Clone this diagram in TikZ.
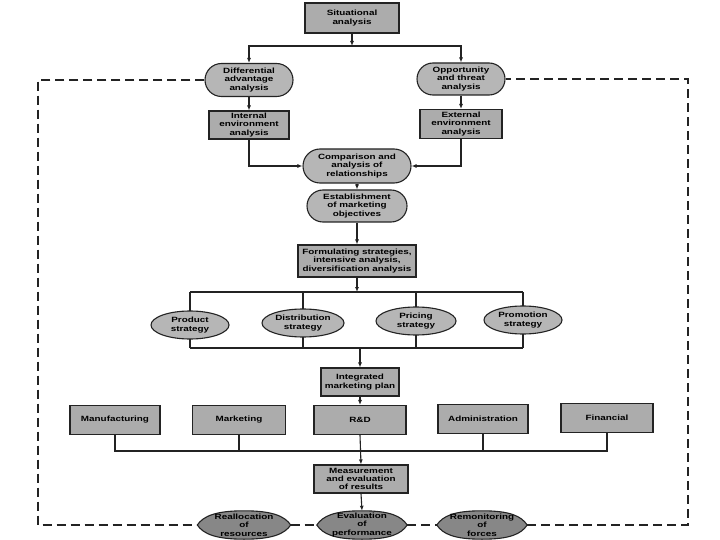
\documentclass[tikz,border=0pt]{standalone}
\usepackage{fontspec}
\newfontfamily\diagfont{Liberation Sans}[FakeStretch=1.3]
\usetikzlibrary{arrows.meta,shapes.misc,shapes.geometric,backgrounds,calc}
\definecolor{boxfill}{RGB}{172,172,172}
\definecolor{ovalfill}{RGB}{182,182,182}
\definecolor{lemonfill}{RGB}{135,135,135}
\definecolor{linec}{RGB}{35,35,35}
\tikzset{
  lbl/.style={font=\diagfont\bfseries\fontsize{7.6}{8.3}\selectfont, align=center, inner sep=1pt, text=black},
  boxnode/.style={lbl, rectangle, draw=linec, line width=1.1pt, fill=boxfill},
  ovalnode/.style={lbl, rounded rectangle, draw=linec, line width=1.1pt, fill=ovalfill},
  ellnode/.style={lbl, ellipse, draw=linec, line width=1.1pt, fill=ovalfill},
  lemonnode/.style={lbl},
  conn/.style={draw=linec, line width=1.1pt},
  arr/.style={conn, -{Latex[length=5pt,width=4pt]}},
  dashline/.style={draw=linec, line width=1.1pt, dash pattern=on 9pt off 5pt},
}
\begin{document}
\begin{tikzpicture}[x=1pt,y=-1pt]
\useasboundingbox (0,0) rectangle (720,540);
\begin{scope}[on background layer]
  \fill[white] (0,0) rectangle (720,540);
\end{scope}

% top part
\node[boxnode, minimum width=94pt, minimum height=30pt] (sit) at (352,18) {Situational\\analysis};
\node[ovalnode, minimum width=90pt, minimum height=33pt] (diff) at (249,80) {Differential\\advantage\\analysis};
\node[ovalnode, minimum width=90pt, minimum height=32pt] (opp) at (461,79) {Opportunity\\and threat\\analysis};
\node[boxnode, minimum width=80pt, minimum height=28pt] (int) at (249,125) {Internal\\environment\\analysis};
\node[boxnode, minimum width=82pt, minimum height=29pt] (ext) at (461,124) {External\\environment\\analysis};
\node[ovalnode, minimum width=110pt, minimum height=34pt] (comp) at (357,166) {Comparison and\\analysis of\\relationships};
\node[ovalnode, minimum width=102pt, minimum height=32pt] (est) at (357,206) {Establishment\\of marketing\\objectives};
\node[boxnode, minimum width=118pt, minimum height=32pt] (form) at (357,261) {Formulating strategies,\\intensive analysis,\\diversification analysis};

% strategies
\node[ellnode, minimum width=78pt, minimum height=28pt] (prod) at (190,325) {Product\\strategy};
\node[ellnode, minimum width=82pt, minimum height=28pt] (dist) at (303,323) {Distribution\\strategy};
\node[ellnode, minimum width=80pt, minimum height=28pt] (pric) at (416,321) {Pricing\\strategy};
\node[ellnode, minimum width=78pt, minimum height=28pt] (prom) at (523,320) {Promotion\\strategy};

\node[boxnode, minimum width=78pt, minimum height=28pt] (integ) at (360,382) {Integrated\\marketing plan};

% functional areas
\node[boxnode, minimum width=90pt, minimum height=29pt] (manu) at (115,420) {Manufacturing};
\node[boxnode, minimum width=93pt, minimum height=29pt] (mark) at (239,420) {Marketing};
\node[boxnode, minimum width=92pt, minimum height=29pt] (rd) at (360,420) {R\&D};
\node[boxnode, minimum width=90pt, minimum height=29pt] (adm) at (483,419) {Administration};
\node[boxnode, minimum width=92pt, minimum height=29pt] (fin) at (607,418) {Financial};

\node[boxnode, minimum width=94pt, minimum height=28pt] (meas) at (361,479) {Measurement\\and evaluation\\of results};

\node[lemonnode, minimum width=93pt, minimum height=28pt] (real) at (244,525) {Reallocation\\of\\resources};
\node[lemonnode, minimum width=90pt, minimum height=28pt] (eval) at (362,525) {Evaluation\\of\\performance};
\node[lemonnode, minimum width=90pt, minimum height=28pt] (remon) at (482,525) {Remonitoring\\of\\forces};

\begin{scope}[on background layer]
  \foreach \n in {real,eval,remon}{
    \filldraw[fill=lemonfill, draw=linec, line width=1.1pt]
      (\n.west) .. controls +(6,-9) and +(-28,0) .. (\n.north)
      .. controls +(28,0) and +(-6,-9) .. (\n.east)
      .. controls +(-6,9) and +(28,0) .. (\n.south)
      .. controls +(-28,0) and +(6,9) .. (\n.west) -- cycle;
  }
\end{scope}

% connectors top
\coordinate (j1) at (352,46);
\draw[arr] (sit.south) -- (j1);
\draw[arr] (j1) -| (diff.north);
\draw[arr] (j1) -| (opp.north);
\draw[arr] (diff.south) -- (int.north);
\draw[arr] (opp.south) -- (ext.north);
\draw[arr] (int.south) |- (comp.west);
\draw[arr] (ext.south) |- (comp.east);
\draw[arr] (comp.south) -- (est.north);
\draw[arr] (est.south) -- (form.north);

% strategy frame
\coordinate (st) at (357,292);
\coordinate (sb) at (360,348);
\draw[arr] (form.south) -- (st);
\begin{scope}[on background layer]
  \draw[conn] (prod |- st) -- (prom |- st);
  \draw[conn] (prod |- sb) -- (prom |- sb);
  \foreach \n in {prod,dist,pric,prom}{
    \draw[conn] (\n |- st) -- (\n |- sb);
  }
\end{scope}
\draw[arr] (sb) -- (integ.north);
\draw[arr] (integ.south) -- (rd.north);

% functional lines
\coordinate (fb) at (360,451);
\draw[conn] (manu.south) -- (manu.south |- fb) -- (fin.south |- fb) -- (fin.south);
\draw[conn] (mark.south) -- (mark.south |- fb);
\draw[conn] (adm.south) -- (adm.south |- fb);
\draw[arr] (rd.south) -- (meas.north);
\draw[arr] (meas.south) -- (eval.north);

% dashed feedback frame
\coordinate (ftl) at (38,80);
\coordinate (fbr) at (688,525);
\draw[dashline] (diff.west) -- (diff.west -| ftl) -- (ftl |- real.west) -- (real.west);
\draw[dashline] (real.east) -- (eval.west);
\draw[dashline] (eval.east) -- (remon.west);
\draw[dashline] (remon.east) -- (remon.east -| fbr) -- (fbr |- opp.east) -- (opp.east);
\end{tikzpicture}
\end{document}
